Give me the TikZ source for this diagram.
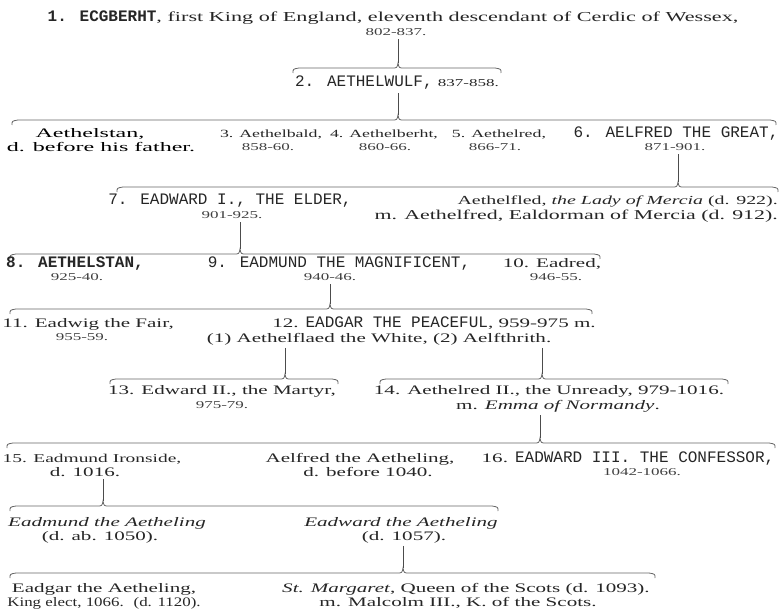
\documentclass[tikz,border=0pt]{standalone}
\usepackage{fontspec}
\setmainfont{Liberation Serif}
\newfontfamily\srf{Liberation Serif}[FakeStretch=1.62]
\newfontfamily\srw{Liberation Serif}[FakeStretch=1.85]
\newfontfamily\srn{Liberation Serif}[FakeStretch=1.3]
\newfontfamily\cps{Liberation Mono}
\newcommand{\kc}[1]{{\cps\fontsize{16}{16}\selectfont #1}}
\newcommand{\kcb}[1]{{\cps\bfseries\fontsize{16}{16}\selectfont #1}}
\newcommand{\kinbr}[5]{%
  \draw[brc] ({#1},{#4+5}) .. controls ({#1},{#4+1}) .. ({#1+6},{#4})
    -- ({#3-6},{#4}) .. controls ({#3-1},{#4}) .. ({#3},{#4-5}) coordinate (#5)
    .. controls ({#3+1},{#4}) .. ({#3+6},{#4})
    -- ({#2-6},{#4}) .. controls ({#2},{#4+1}) .. ({#2},{#4+5});}
\tikzset{
  nm/.style={anchor=base, inner sep=0pt, font={\srf\fontsize{13}{15}\selectfont}, text=black!85},
  nms/.style={nm, font={\srf\fontsize{11}{13}\selectfont}},
  nmw/.style={nm, font={\srw\fontsize{13}{15}\selectfont}, text=black},
  nmn/.style={nm, font={\srn\fontsize{13}{15}\selectfont}},
  dt/.style={anchor=base, inner sep=0pt, font={\srf\fontsize{10.5}{12}\selectfont}, text=black!75},
  brc/.style={draw=black!60, line width=0.8pt},
  stm/.style={draw=black!70, line width=0.8pt, shorten <=3pt},
}
\begin{document}
\begin{tikzpicture}[x=1pt,y=-1pt]
\useasboundingbox (0,0) rectangle (782,612);
\fill[white] (0,0) rectangle (782,612);

% generation 1 and 2
\node[nm, font={\srf\fontsize{13.7}{16}\selectfont}] (p1a) at (393,22) {\kcb{1. ECGBERHT}, first King of England, eleventh descendant of Cerdic of Wessex,};
\node[dt] (p1b) at (396,36) {802-837.};
\kinbr{293}{501}{398}{68}{cA}
\node[nm] (p2) at (397,87) {\kc{2. AETHELWULF,} {\fontsize{10.5}{12}\selectfont 837-858.}};
\kinbr{12}{776}{398}{120}{cB}

% generation 3
\node[nmw] (p3a) at (90,138) {Aethelstan,};
\node[nmw] (p3b) at (101,152) {d. before his father.};
\node[nms] (p4a) at (271,138) {3. Aethelbald,};
\node[dt] (p4b) at (268,151) {858-60.};
\node[nms] (p5a) at (384,138) {4. Aethelberht,};
\node[dt] (p5b) at (385,151) {860-66.};
\node[nms] (p6a) at (499,138) {5. Aethelred,};
\node[dt] (p6b) at (495,151) {866-71.};
\node[nm] (p7a) at (676,138) {\kc{6. AELFRED THE GREAT,}};
\node[dt] (p7b) at (675,151) {871-901.};
\kinbr{117}{778}{678}{187}{cC}

% generation 4
\node[nm] (p8a) at (230,205) {\kc{7. EADWARD I., THE ELDER,}};
\node[dt] (p8b) at (232,219) {901-925.};
\node[nm, font={\srf\fontsize{12.3}{15}\selectfont}, anchor=base east] (p9a) at (778,205) {Aethelfled, \textit{the Lady of Mercia} (d. 922).};
\node[nm, font={\srf\fontsize{13.5}{15}\selectfont}, anchor=base east] (p9b) at (778,220) {m. Aethelfred, Ealdorman of Mercia (d. 912).};
\kinbr{10}{600}{240}{254}{cD}

% generation 5
\node[nm] (p10a) at (75,268) {\kcb{8. AETHELSTAN,}};
\node[dt] (p10b) at (77,281) {925-40.};
\node[nm] (p11a) at (339,268) {\kc{9. EADMUND THE MAGNIFICENT,}};
\node[dt] (p11b) at (330,281) {940-46.};
\node[nm] (p12a) at (552,268) {10. Eadred,};
\node[dt] (p12b) at (556,281) {946-55.};
\kinbr{10}{592}{330}{309}{cE}

% generation 6
\node[nm] (p13a) at (88,328) {11. Eadwig the Fair,};
\node[dt] (p13b) at (82,341) {955-59.};
\node[nm] (p14a) at (434,328) {12. \kc{EADGAR THE PEACEFUL}, 959-975 m.};
\node[nm] (p14b) at (379,342) {(1) Aethelflaed the White, (2) Aelfthrith.};
\kinbr{110}{338}{285}{379}{cL}
\kinbr{380}{728}{542}{379}{cR}

% generation 7
\node[nm] (p15a) at (222,395) {13. Edward II., the Martyr,};
\node[dt] (p15b) at (222,408) {975-79.};
\node[nm] (p16a) at (549,395) {14. Aethelred II., the Unready, 979-1016.};
\node[nm] (p16b) at (558,409) {m. \textit{Emma of Normandy}.};
\kinbr{7}{775}{540}{443}{cF}

% generation 8
\node[nm, font={\srf\fontsize{12}{15}\selectfont}] (p17a) at (92,462) {15. Eadmund Ironside,};
\node[nm] (p17b) at (85,476) {d. 1016.};
\node[nm] (p18a) at (360,462) {Aelfred the Aetheling,};
\node[nm] (p18b) at (368,476) {d. before 1040.};
\node[nm] (p19a) at (628,462) {16. \kc{EADWARD III. THE CONFESSOR,}};
\node[dt] (p19b) at (642,475) {1042-1066.};
\kinbr{10}{498}{103}{506}{cG}

% generation 9
\node[nm] (p20a) at (107,526) {\textit{Eadmund the Aetheling}};
\node[nm] (p20b) at (100,540) {(d. ab. 1050).};
\node[nm] (p21a) at (401,526) {\textit{Eadward the Aetheling}};
\node[nm] (p21b) at (404,540) {(d. 1057).};
\kinbr{10}{655}{403}{573}{cH}

% generation 10
\node[nm] (p22a) at (104,592) {Eadgar the Aetheling,};
\node[nmn] (p22b) at (104,606) {King elect, 1066. \ (d. 1120).};
\node[nm] (p23a) at (466,592) {\textit{St. Margaret}, Queen of the Scots (d. 1093).};
\node[nm] (p23b) at (458,606) {m. Malcolm III., K. of the Scots.};

% stems
\draw[stm] (p1b.south -| cA) -- (cA);
\draw[stm] (p2.south -| cB) -- (cB);
\draw[stm] (p7b.south -| cC) -- (cC);
\draw[stm] (p8b.south -| cD) -- (cD);
\draw[stm] (p11b.south -| cE) -- (cE);
\draw[stm] (p14b.south -| cL) -- (cL);
\draw[stm] (p14b.south -| cR) -- (cR);
\draw[stm] (p16b.south -| cF) -- (cF);
\draw[stm] (p17b.south -| cG) -- (cG);
\draw[stm] (p21b.south -| cH) -- (cH);
\end{tikzpicture}
\end{document}
